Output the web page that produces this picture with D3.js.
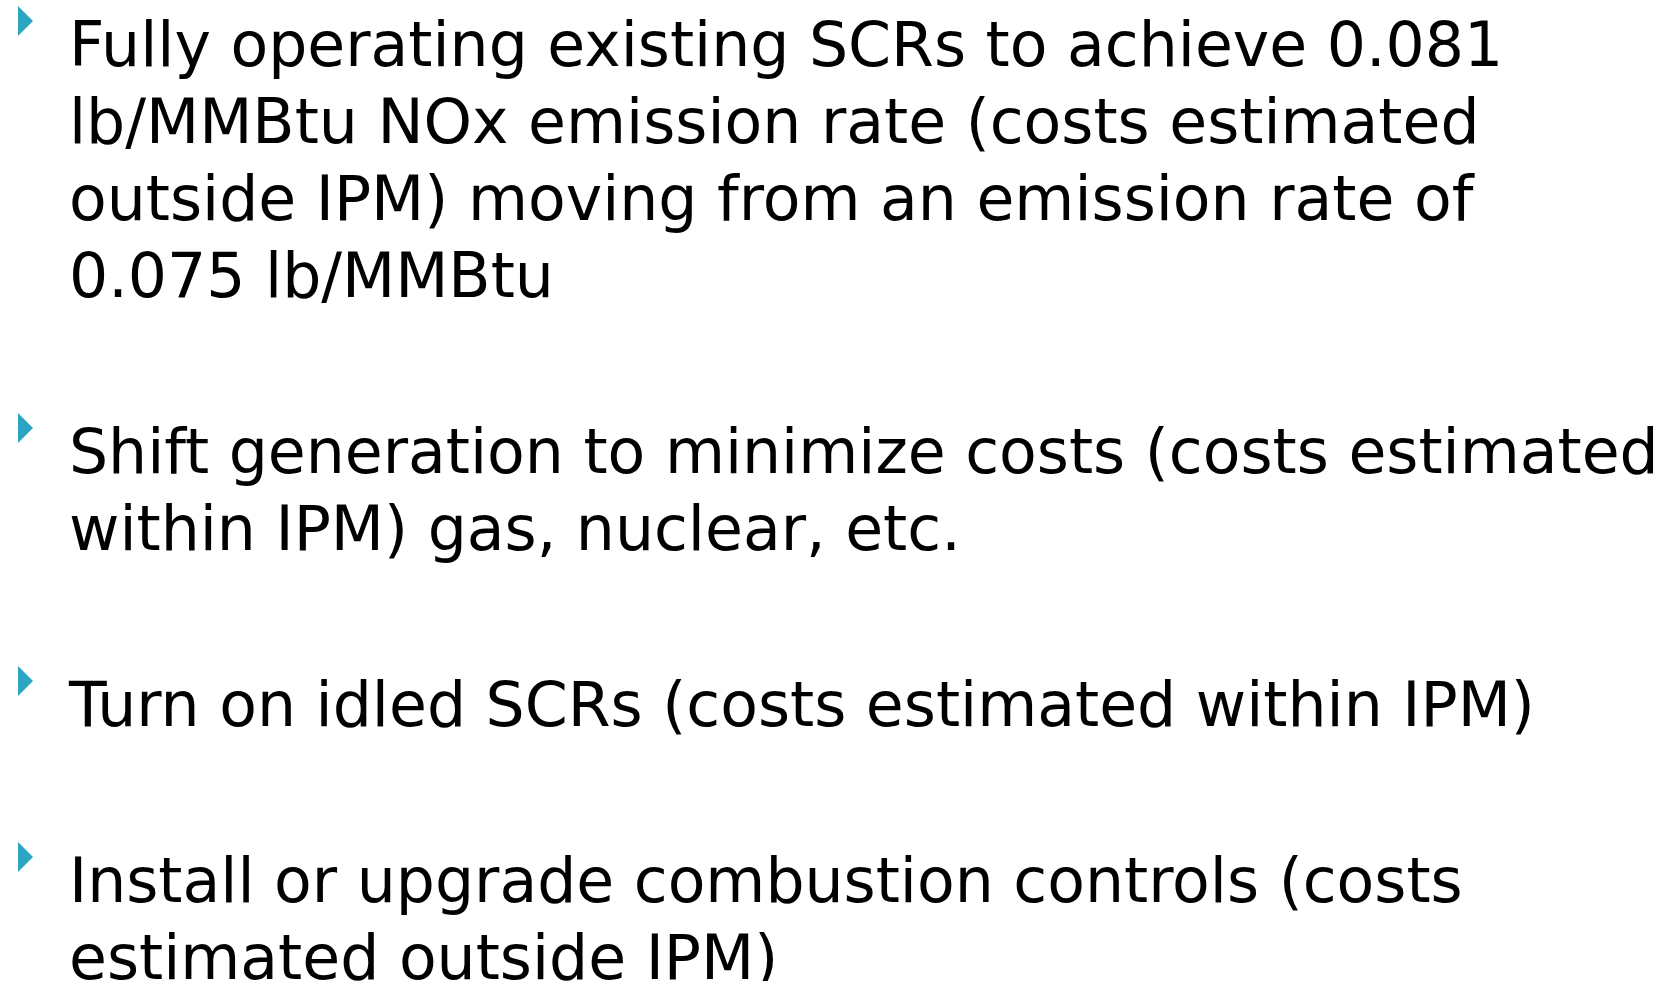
<!DOCTYPE html>
<html lang="en">
<head>
    <meta charset="UTF-8">
    <title>NOx reduction options</title>
    <script src="https://cdn.jsdelivr.net/npm/d3@7"></script>
    <style>
        html, body { margin: 0; padding: 0; background: #ffffff; overflow: hidden; }
        .bullet-text { font-family: "DejaVu Sans", sans-serif; fill: #000000; }
    </style>
</head>
<body>
<script>
// each bullet, split into the lines it wraps to in the slide
const bullet1 = ["Fully operating existing SCRs to achieve 0.081",
                 "lb/MMBtu NOx emission rate (costs estimated",
                 "outside IPM) moving from an emission rate of",
                 "0.075 lb/MMBtu"];
const bullet2 = ["Shift generation to minimize costs (costs estimated",
                 "within IPM) gas, nuclear, etc."];
const bullet3 = ["Turn on idled SCRs (costs estimated within IPM)"];
const bullet4 = ["Install or upgrade combustion controls (costs",
                 "estimated outside IPM)"];
const bullets = [bullet1, bullet2, bullet3, bullet4];

const w = 1679, h = 981;
const textX = 69;
const firstBaseline = 66;
const lineHeight = 77;
const paraGap = 99;
const fontSize = 63;
const widestLine = 1590; // advance width of the "Shift generation..." line in the slide

const svg = d3.select("body").append("svg")
    .attr("width", w)
    .attr("height", h);

// flatten into rows with a running line index and paragraph index
let rows = [];
let lineIdx = 0;
bullets.forEach((lines, p) => {
    lines.forEach((t, i) => {
        rows.push({text: t, para: p, first: i === 0, line: lineIdx});
        lineIdx++;
    });
});

let yScale = d3.scaleLinear()
    .domain([0, 1])
    .range([firstBaseline, firstBaseline + lineHeight]);
const baseline = (d) => yScale(d.line) + d.para * paraGap;

let textG = svg.append("g");
let texts = textG.selectAll("text")
    .data(rows)
    .enter()
    .append("text")
    .attr("class", "bullet-text")
    .attr("x", 0)
    .attr("y", (d) => baseline(d))
    .style("font-size", fontSize + "px")
    .text((d) => d.text);

// stretch horizontally so line widths follow the slide's font
let maxW = d3.max(texts.nodes(), (n) => n.getComputedTextLength());
let sx = widestLine / maxW;
textG.attr("transform", "translate(" + textX + ",0) scale(" + sx + ",1)");

// teal triangle markers
svg.selectAll("path.marker")
    .data(rows.filter((d) => d.first))
    .enter()
    .append("path")
    .attr("class", "marker")
    .attr("d", (d) => {
        let b = baseline(d);
        return "M18," + (b - 60) + " L33," + (b - 45) + " L18," + (b - 30) + " Z";
    })
    .attr("fill", "#2ca5c3");
</script>
</body>
</html>
